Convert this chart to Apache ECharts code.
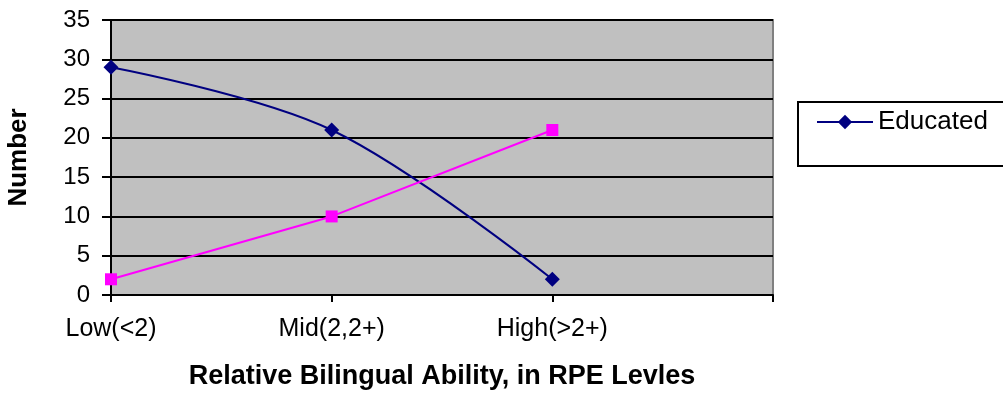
<!DOCTYPE html>
<html>
<head>
<meta charset="utf-8">
<script src="https://cdn.jsdelivr.net/npm/echarts@6/dist/echarts.min.js"></script>
<style>
  html, body { margin: 0; padding: 0; background: #fff; }
  #chart { width: 1003px; height: 393px; }
</style>
</head>
<body>
<div id="chart"></div>
<script>
// Category labels along the x axis (the last slot is left blank)
const categories = ['Low(<2)', 'Mid(2,2+)', 'High(>2+)', ''];
// Counts per RPE level
const educatedValues = [29, 21, 2];
const otherValues = [2, 10, 21];
const yTicks = { min: 0, max: 35, interval: 5 };

const chart = echarts.init(document.getElementById('chart'));
const font = 'Liberation Sans, Arial, sans-serif';

chart.setOption({
  animation: false,
  backgroundColor: '#ffffff',
  textStyle: { fontFamily: font },
  grid: {
    left: 111, top: 20, width: 662, height: 275,
    outerBoundsMode: 'none',
    containLabel: false,
    show: true, backgroundColor: '#c0c0c0',
    borderColor: '#808080', borderWidth: 2
  },
  legend: {
    data: ['Educated'],
    left: 811, top: 104,
    itemWidth: 56, itemHeight: 18, itemGap: 6,
    textStyle: { fontFamily: font, fontSize: 26, color: '#000' }
  },
  graphic: [{
    type: 'rect',
    shape: { x: 798, y: 102, width: 220, height: 64 },
    style: { fill: 'transparent', stroke: '#000', lineWidth: 2 },
    z: -1
  }],
  xAxis: {
    type: 'category',
    data: categories,
    boundaryGap: false,
    name: 'Relative Bilingual Ability, in RPE Levles',
    nameLocation: 'middle',
    nameGap: 68,
    nameTextStyle: { fontFamily: font, fontSize: 27, fontWeight: 'bold', color: '#000' },
    axisLine: { lineStyle: { color: '#000', width: 2 } },
    axisTick: { show: true, inside: false, length: 7, lineStyle: { color: '#000', width: 2 } },
    axisLabel: { fontFamily: font, fontSize: 25, color: '#000', margin: 22 },
    splitLine: { show: false }
  },
  yAxis: {
    type: 'value',
    min: yTicks.min, max: yTicks.max, interval: yTicks.interval,
    name: 'Number',
    nameLocation: 'middle',
    nameGap: 79,
    nameTextStyle: { fontFamily: font, fontSize: 26, fontWeight: 'bold', color: '#000' },
    axisLine: { show: true, lineStyle: { color: '#000', width: 2 } },
    axisTick: { show: true, length: 9, lineStyle: { color: '#000', width: 2 } },
    axisLabel: { fontFamily: font, fontSize: 24, color: '#000', margin: 21 },
    splitLine: { show: true, lineStyle: { color: '#000', width: 2 } }
  },
  series: [
    {
      name: 'Educated',
      type: 'line',
      data: educatedValues,
      smooth: 0.35,
      symbol: 'diamond',
      symbolSize: 15,
      itemStyle: { color: '#000080' },
      lineStyle: { color: '#000080', width: 2 }
    },
    {
      name: 'Uneducated',
      type: 'line',
      data: otherValues,
      symbol: 'rect',
      symbolSize: 12,
      itemStyle: { color: '#ff00ff' },
      lineStyle: { color: '#ff00ff', width: 2 }
    }
  ]
});
</script>
</body>
</html>
